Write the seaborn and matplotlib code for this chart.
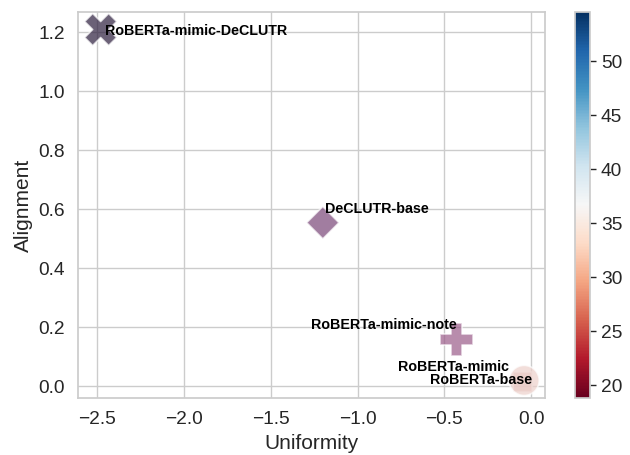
import matplotlib
matplotlib.use("Agg")
import matplotlib.pyplot as plt
import matplotlib as mpl
import pandas as pd
import seaborn as sns

# Embedding quality per model
models = ["RoBERTa-mimic", "RoBERTa-base", "RoBERTa-mimic-DeCLUTR",
          "RoBERTa-mimic-note", "DeCLUTR-base"]
uniformity = [-0.05, -0.04, -2.48, -0.43, -1.20]
alignment = [0.015, 0.02, 1.21, 0.16, 0.555]
score = [22.5, 18.8, 54.6, 39.0, 44.0]

# marker shape and area per model
markers = {"RoBERTa-base": "o", "RoBERTa-mimic-DeCLUTR": "X",
           "RoBERTa-mimic": "s", "RoBERTa-mimic-note": "P",
           "DeCLUTR-base": "D"}
areas = {"RoBERTa-base": 470, "RoBERTa-mimic-DeCLUTR": 530,
         "RoBERTa-mimic": 200, "RoBERTa-mimic-note": 560,
         "DeCLUTR-base": 270}

# label offsets in points and horizontal alignment
label_offsets = {
    "RoBERTa-base": (6, 0, "right"),
    "RoBERTa-mimic-DeCLUTR": (3, -1, "left"),
    "RoBERTa-mimic": (-10, 11, "right"),
    "RoBERTa-mimic-note": (0, 10.5, "right"),
    "DeCLUTR-base": (1.5, 10, "left"),
}

df = pd.DataFrame({"model": models, "Uniformity": uniformity,
                   "Alignment": alignment, "score": score})

sns.set_theme(style="whitegrid", font_scale=1.25)
plt.rcParams["font.family"] = ["Liberation Sans", "DejaVu Sans"]

fig = plt.figure(figsize=(6.3, 4.55), dpi=100)
ax = fig.add_axes([0.124, 0.125, 0.741, 0.849])
cax = fig.add_axes([0.913, 0.125, 0.024, 0.849])

sns.scatterplot(data=df, x="Uniformity", y="Alignment", hue="score",
                style="model", markers=markers, size="model", sizes=areas,
                alpha=0.7, legend=False, ax=ax)

for m, x, y in zip(models, uniformity, alignment):
    dx, dy, ha = label_offsets[m]
    ax.annotate(m, (x, y), xytext=(dx, dy), textcoords="offset points",
                ha=ha, va="center", fontsize=10.3, fontweight="bold",
                color="black")

ax.set_xlim(-2.61, 0.08)
ax.set_ylim(-0.04, 1.27)

norm = mpl.colors.Normalize(vmin=min(score), vmax=max(score))
sm = mpl.cm.ScalarMappable(cmap="RdBu", norm=norm)
cb = fig.colorbar(sm, cax=cax)
cb.outline.set_edgecolor("0.8")
cax.tick_params(length=4, width=1, color="0.15")

fig.savefig("out.png", dpi=100)
